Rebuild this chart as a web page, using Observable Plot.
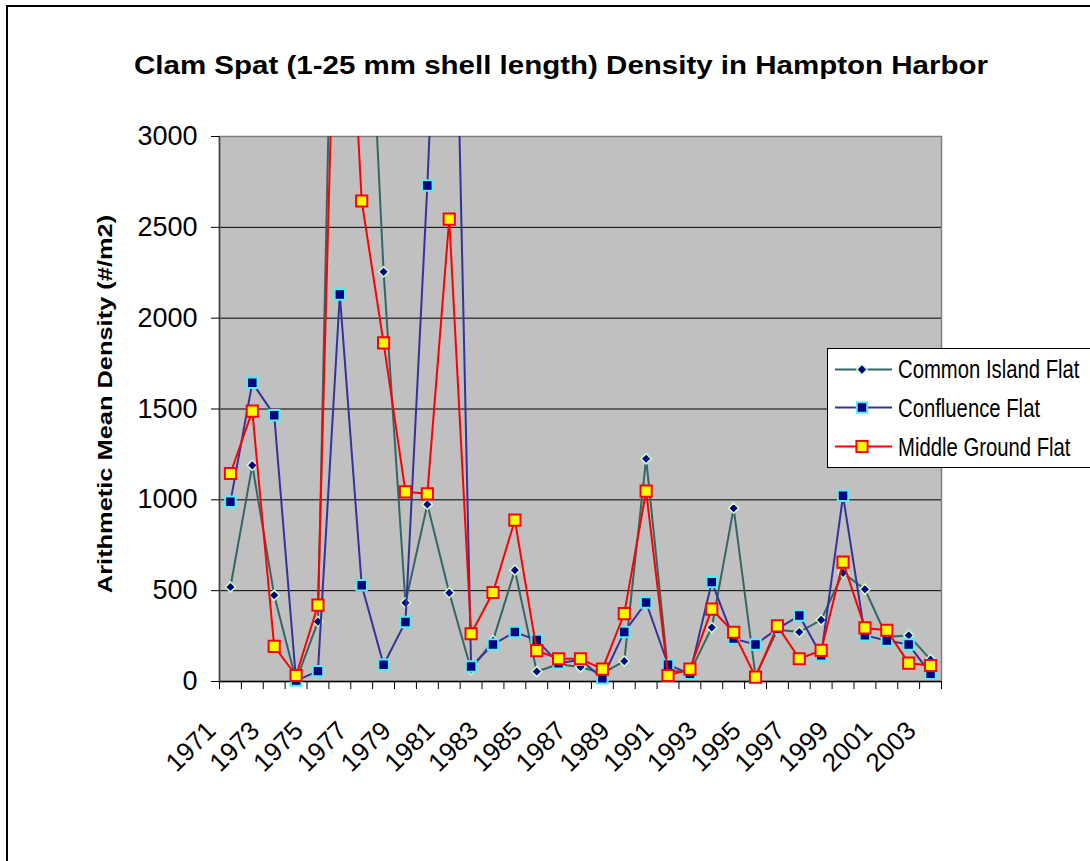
<!DOCTYPE html>
<html><head><meta charset="utf-8">
<script src="https://cdn.jsdelivr.net/npm/d3@7"></script>
<script src="https://cdn.jsdelivr.net/npm/@observablehq/plot@0.6"></script>
<style>
body{margin:0;background:#fff;font-family:"Liberation Sans",Arial,sans-serif;}
#wrap{position:relative;width:1090px;height:861px;overflow:hidden;background:#fff;}
#frame{position:absolute;left:6px;top:5px;right:-10px;bottom:-10px;border-left:2px solid #000;border-top:2px solid #000;}
#title{position:absolute;top:53px;left:561px;transform:translateX(-50%) scaleX(1.18);font-weight:bold;font-size:25px;white-space:nowrap;line-height:1;color:#000;}
#ylabel{position:absolute;left:105px;top:404px;transform:translate(-50%,-50%) rotate(-90deg) scaleX(1.27);font-weight:bold;font-size:20px;white-space:nowrap;line-height:1;color:#000;}
#chart{position:absolute;left:0;top:100px;}
#legend{position:absolute;left:827px;top:348px;width:280px;height:118px;border:1px solid #000;background:#fff;}
.row{position:absolute;left:0;height:39px;width:280px;}
.row svg{position:absolute;left:0;top:0;}
.row span{position:absolute;left:70px;top:50%;font-size:26px;line-height:1;white-space:nowrap;transform:translateY(-50%) scaleX(0.78);transform-origin:left center;color:#000;}
</style>
</head>
<body>
<div id="wrap">
  <div id="frame"></div>
  <div id="title">Clam Spat (1-25 mm shell length) Density in Hampton Harbor</div>
  <div id="chart"></div>
  <div id="ylabel">Arithmetic Mean Density (#/m2)</div>
  <div id="legend"></div>
</div>
<script>
const years = [1971,1972,1973,1974,1975,1976,1977,1978,1979,1980,1981,1982,1983,1984,1985,1986,1987,1988,1989,1990,1991,1992,1993,1994,1995,1996,1997,1998,1999,2000,2001,2002,2003];
const commonIsland = [520,1190,475,5,330,6000,4750,2255,433,975,488,65,225,613,55,95,80,45,112,1226,60,50,297,954,30,285,272,339,598,508,245,254,120];
const confluence   = [989,1645,1466,5,57,2130,530,92,328,2730,5600,83,204,272,228,101,120,18,272,435,92,42,547,236,204,290,363,144,1022,254,226,204,42];
const middleGround = [1145,1488,193,33,420,4900,2645,1864,1044,1033,2545,263,490,888,170,125,125,68,374,1048,33,68,398,271,24,306,125,171,657,295,282,101,88];
const yearLabels = [1971,1973,1975,1977,1979,1981,1983,1985,1987,1989,1991,1993,1995,1997,1999,2001,2003];
const yTicks = [0,500,1000,1500,2000,2500,3000];
const seriesNames = ["Common Island Flat","Confluence Flat","Middle Ground Flat"];

const styles = [
  {line:"#336666", symbol:"diamond2", r:4.6, fill:"#000080", stroke:"#ccffcc", sw:1.5},
  {line:"#333399", symbol:"square", r:5.9, fill:"#000080", stroke:"#55eeee", sw:2},
  {line:"#ff0000", symbol:"square", r:6.3, fill:"#ffff00", stroke:"#ff0000", sw:2}
];

const yMax = yTicks[yTicks.length-1];
const toRows = (vals, name) => years.map((year,i)=>({year, value: vals[i], series: name}));
const data = [toRows(commonIsland, seriesNames[0]), toRows(confluence, seriesNames[1]), toRows(middleGround, seriesNames[2])];
const x0 = years[0]-0.5, x1 = years[years.length-1]+0.5;
const edges = d3.range(x0, x1 + 0.01, 1);

const seriesMarks = [];
data.forEach((rows, k) => {
  const s = styles[k];
  seriesMarks.push(Plot.line(rows, {x:"year", y:"value", stroke:s.line, strokeWidth:2, clip:true}));
  seriesMarks.push(Plot.dot(rows.filter(d => d.value <= yMax), {x:"year", y:"value", symbol:s.symbol, r:s.r, fill:s.fill, stroke:s.stroke, strokeWidth:s.sw}));
});

const chart = Plot.plot({
  width:1090, height:761,
  marginLeft:219, marginRight:149, marginTop:36, marginBottom:180,
  style:{fontFamily:'"Liberation Sans", Arial, sans-serif', fontSize:"26px", color:"#000", background:"transparent", overflow:"visible"},
  x:{type:"linear", domain:[x0, x1]},
  y:{type:"linear", domain:[0, yMax]},
  marks:[
    Plot.frame({fill:"#c0c0c0", stroke:null}),
    Plot.ruleY(yTicks.filter(v => v > 0 && v < yMax), {stroke:"#000", strokeWidth:1}),
    Plot.frame({stroke:"#808080", strokeWidth:1.5}),
    Plot.ruleY([0], {stroke:"#000", strokeWidth:1.5}),
    Plot.ruleX([x0], {stroke:"#404040", strokeWidth:1.5}),
    Plot.axisY({ticks:yTicks, tickSize:8, tickPadding:14, label:null, tickFormat:d => String(d), stroke:"#000", fontSize:27, style:{letterSpacing:"1px"}}),
    Plot.axisX({ticks:edges, tickSize:8, tickFormat:() => "", label:null, stroke:"#000"}),
    Plot.axisX({ticks:yearLabels, tickSize:0, tickRotate:-45, tickPadding:45, dx:-19, label:null, tickFormat:d => String(d), fontSize:26}),
    ...seriesMarks
  ]
});
document.getElementById("chart").appendChild(chart);

// legend
const legend = document.getElementById("legend");
const rowCenters = [20, 58.5, 97.5];
seriesNames.forEach((name, k) => {
  const s = styles[k];
  const row = document.createElement("div");
  row.className = "row";
  row.style.top = (rowCenters[k] - 19.5) + "px";
  let marker;
  if (s.symbol === "diamond2") {
    marker = `<polygon points="34,14.3 39.2,19.5 34,24.7 28.8,19.5" fill="${s.fill}" stroke="${s.stroke}" stroke-width="${s.sw}"/>`;
  } else {
    const h = k === 2 ? 5.6 : 5.2;
    marker = `<rect x="${34-h}" y="${19.5-h}" width="${2*h}" height="${2*h}" fill="${s.fill}" stroke="${s.stroke}" stroke-width="${s.sw}"/>`;
  }
  row.innerHTML = `<svg width="70" height="39"><line x1="7" x2="64" y1="19.5" y2="19.5" stroke="${s.line}" stroke-width="2"/>${marker}</svg><span>${name}</span>`;
  legend.appendChild(row);
});
</script>
</body></html>
